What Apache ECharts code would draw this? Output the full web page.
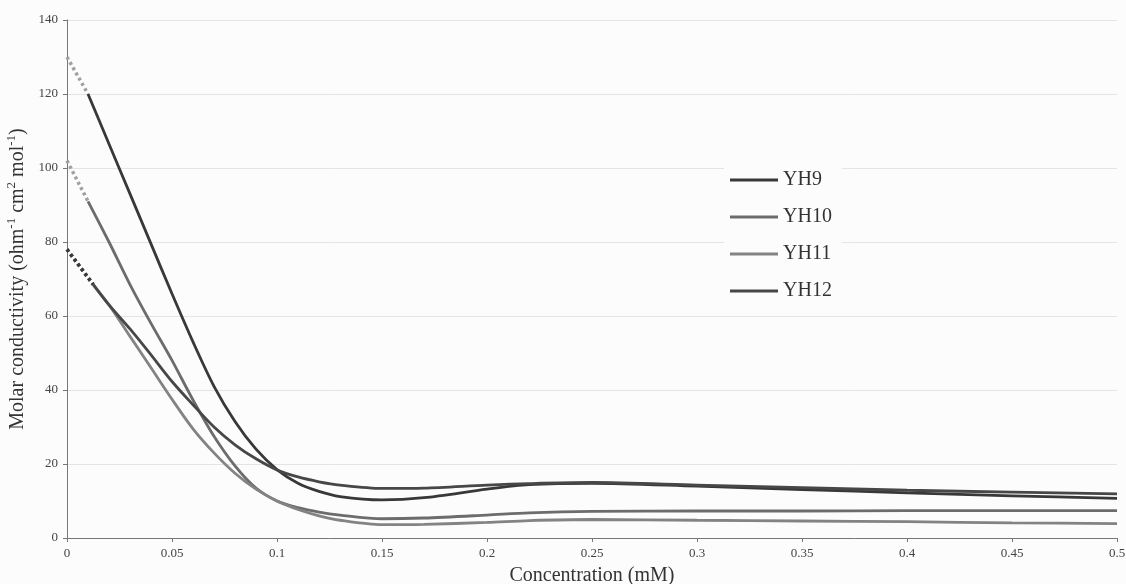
<!DOCTYPE html>
<html>
<head>
<meta charset="utf-8">
<script src="https://cdn.jsdelivr.net/npm/echarts@6/dist/echarts.min.js"></script>
<style>
  html, body { margin: 0; padding: 0; background: #fcfcfc; }
  #chart { width: 1126px; height: 584px; }
</style>
</head>
<body>
<div id="chart"></div>
<script>
const concAB = [0.01, 0.02, 0.03, 0.04, 0.05, 0.06, 0.07, 0.08, 0.09, 0.1, 0.11, 0.12, 0.13, 0.15, 0.17, 0.2, 0.22, 0.25, 0.3, 0.35, 0.4, 0.45, 0.5];
const concCD = [0.0125, 0.02, 0.03, 0.04, 0.05, 0.06, 0.07, 0.08, 0.09, 0.1, 0.11, 0.12, 0.13, 0.15, 0.17, 0.2, 0.22, 0.25, 0.3, 0.35, 0.4, 0.45, 0.5];
const yh9  = [120, 106.5, 93, 79.5, 66, 53, 41, 31.5, 24, 18.5, 14.8, 12.6, 11.2, 10.3, 10.9, 13.2, 14.4, 14.8, 14.0, 13.1, 12.2, 11.4, 10.7];
const yh10 = [91, 80, 68.5, 58, 48, 37.3, 27.5, 19.5, 13.5, 10, 8.2, 7, 6.2, 5.2, 5.4, 6.2, 6.8, 7.2, 7.3, 7.3, 7.4, 7.4, 7.4];
const yh11 = [68.5, 63, 54.5, 46, 37.5, 29.5, 23, 17.5, 13.2, 10, 7.7, 6, 4.8, 3.6, 3.7, 4.2, 4.7, 5.0, 4.8, 4.6, 4.4, 4.1, 3.9];
const yh12 = [68.5, 63, 56.5, 49.5, 42.3, 36, 30, 25.2, 21.4, 18.4, 16.5, 15.2, 14.3, 13.4, 13.5, 14.3, 14.7, 15, 14.3, 13.6, 12.9, 12.4, 11.9];
// extrapolated values at zero concentration (dotted)
const intercepts = [130, 102, 78, 78];

const names = ["YH9", "YH10", "YH11", "YH12"];
const colors = ["#383838", "#6c6c6c", "#838383", "#474747"];
const dotColors = ["#a0a0a0", "#a0a0a0", "#3a3a3a", "#3a3a3a"];
const values = [yh9, yh10, yh11, yh12];
const xs = [concAB, concAB, concCD, concCD];

const serif = "Liberation Serif";

let series = [];
names.forEach(function (n, i) {
  series.push({
    name: n,
    type: "line",
    data: xs[i].map(function (x, j) { return [x, values[i][j]]; }),
    smooth: 0.3,
    symbol: "none",
    lineStyle: { color: colors[i], width: 2.8 },
    itemStyle: { color: colors[i] },
    z: 3
  });
  series.push({
    type: "line",
    data: [[0, intercepts[i]], [xs[i][0], values[i][0]]],
    symbol: "none",
    lineStyle: { color: dotColors[i], width: 3.5, type: [3, 3] },
    z: 2
  });
});

let option = {
  backgroundColor: "#fcfcfc",
  animation: false,
  grid: { left: 67, right: 9, top: 20, bottom: 46, outerBoundsMode: "none", containLabel: false },
  legend: {
    data: names,
    icon: "rect",
    orient: "vertical",
    left: 724,
    top: 162,
    padding: [8, 10, 8, 6],
    backgroundColor: "#fcfcfc",
    itemWidth: 48,
    itemHeight: 3,
    itemGap: 17,
    textStyle: { fontFamily: serif, fontSize: 20, color: "#333" }
  },
  xAxis: {
    type: "value",
    min: 0,
    max: 0.5,
    interval: 0.05,
    name: "Concentration (mM)",
    nameLocation: "middle",
    nameGap: 28,
    nameTextStyle: { fontFamily: serif, fontSize: 20, color: "#333" },
    axisLine: { lineStyle: { color: "#777" } },
    axisTick: { length: 4, lineStyle: { color: "#777" } },
    axisLabel: {
      fontFamily: serif, fontSize: 13, color: "#444", margin: 9,
      formatter: function (v) { return String(Math.round(v * 100) / 100); }
    },
    splitLine: { show: false }
  },
  yAxis: {
    type: "value",
    min: 0,
    max: 140,
    interval: 20,
    name: "{a|Molar conductivity (ohm}{s|-1}{a| cm}{s|2}{a| mol}{s|-1}{a|)}",
    nameLocation: "middle",
    nameGap: 36,
    nameRotate: 90,
    nameTextStyle: {
      rich: {
        a: { fontFamily: serif, fontSize: 20, color: "#333" },
        s: { fontFamily: serif, fontSize: 13, color: "#333", verticalAlign: "bottom", padding: [0, 0, 12, 0] }
      }
    },
    axisLine: { show: true, lineStyle: { color: "#777" } },
    axisTick: { show: true, length: 4, lineStyle: { color: "#777" } },
    axisLabel: { fontFamily: serif, fontSize: 13, color: "#444", margin: 9 },
    splitLine: { lineStyle: { color: "#e4e4e4", width: 1 } }
  },
  series: series
};

let chart = echarts.init(document.getElementById("chart"));
chart.setOption(option, true);
</script>
</body>
</html>
